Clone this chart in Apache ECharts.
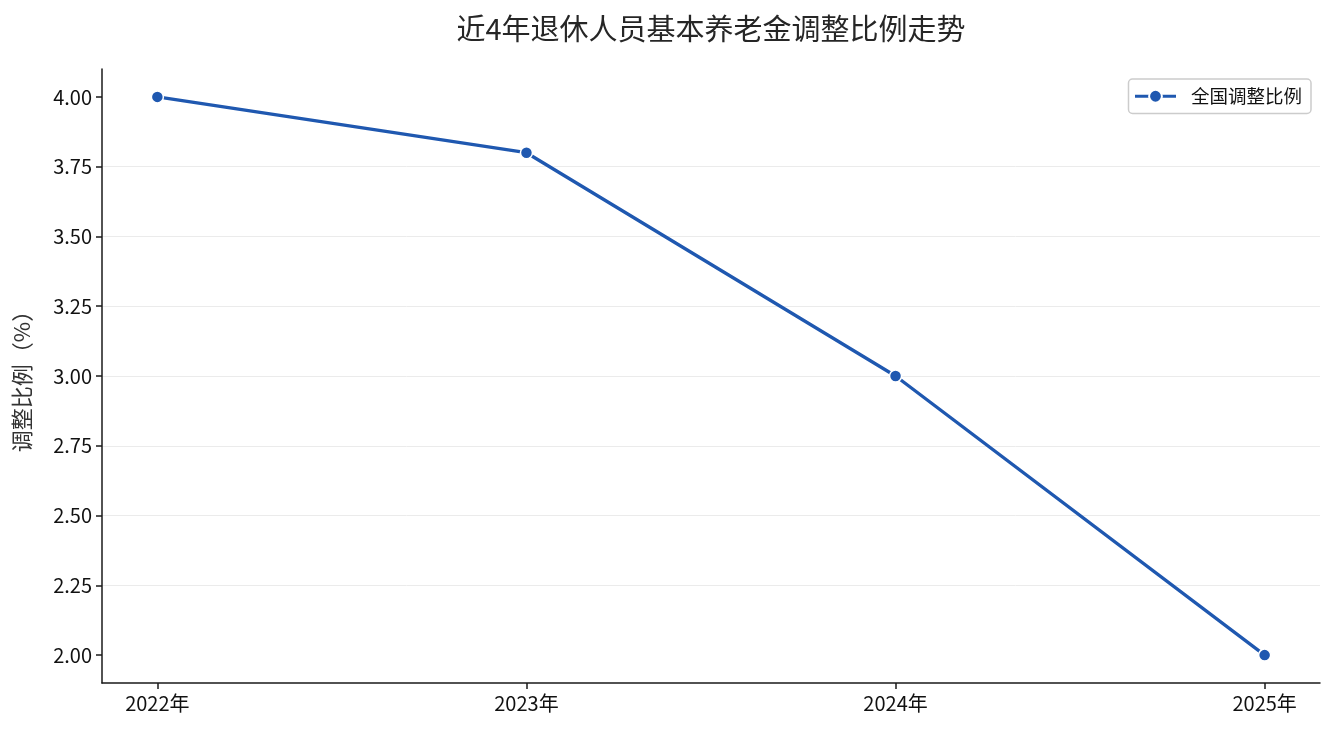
<!DOCTYPE html>
<html><head><meta charset="utf-8">
<script src="https://cdn.jsdelivr.net/npm/echarts@6/dist/echarts.min.js"></script>
<style>html,body{margin:0;padding:0;background:#fff}#c{width:1335px;height:735px}</style>
</head><body><div id="c"></div>
<script>
const categories = ['2022年', '2023年', '2024年', '2025年'];
const seriesName = '全国调整比例';
const values = [4.0, 3.8, 3.0, 2.0];
const yTicks = [2.00, 2.25, 2.50, 2.75, 3.00, 3.25, 3.50, 3.75, 4.00];
const titleText = '近4年退休人员基本养老金调整比例走势';
const yName = '调整比例（%）';

const FONT = '"Noto Sans CJK SC", "Noto Sans", sans-serif';
const chart = echarts.init(document.getElementById('c'));
chart.setOption({
  animation: false,
  backgroundColor: '#fff',
  title: { text: titleText, left: 706, top: 9, textAlign: 'center',
    textStyle: { fontFamily: FONT, fontSize: 29, fontWeight: 'normal', color: '#262626' } },
  legend: { top: 79, right: 24, data: [seriesName],
    itemWidth: 41, itemHeight: 16, itemGap: 12,
    lineStyle: { width: 3 },
    borderColor: '#cccccc', borderWidth: 1.5, borderRadius: 4, padding: [8, 9, 8, 5],
    textStyle: { fontFamily: FONT, fontSize: 18.5, color: '#111', padding: [0, 0, 0, 10] } },
  grid: { left: 102, right: 15, top: 69, bottom: 52, containLabel: false },
  xAxis: {
    type: 'value', min: -0.15, max: 3.15,
    axisLine: { show: true, onZero: false, lineStyle: { color: '#1a1a1a', width: 1.5 } },
    axisTick: { show: true, customValues: categories.map((c, i) => i), length: 6, lineStyle: { color: '#1a1a1a', width: 1.5 } },
    axisLabel: { customValues: categories.map((c, i) => i), formatter: v => categories[Math.round(v)],
      fontFamily: FONT, fontSize: 20, color: '#111', margin: 10 },
    splitLine: { show: false }
  },
  yAxis: {
    type: 'value', min: 1.9, max: 4.1, interval: 0.25,
    name: yName, nameLocation: 'middle', nameGap: 69, nameRotate: 90,
    nameTextStyle: { fontFamily: FONT, fontSize: 22, color: '#333' },
    axisLine: { show: true, onZero: false, lineStyle: { color: '#1a1a1a', width: 1.5 } },
    axisTick: { show: true, customValues: yTicks, length: 6, lineStyle: { color: '#1a1a1a', width: 1.5 } },
    axisLabel: { customValues: yTicks, formatter: v => v.toFixed(2), fontFamily: FONT, fontSize: 20, color: '#111', margin: 10 },
    splitLine: { show: true, showMinLine: false, showMaxLine: false, lineStyle: { color: '#ebebeb', width: 1 } }
  },
  series: [{
    name: seriesName, type: 'line',
    data: values.map((v, i) => [i, v]),
    symbol: 'circle', symbolSize: 12,
    lineStyle: { color: '#1f58b0', width: 3.3 },
    itemStyle: { color: '#1f58b0', borderColor: '#fff', borderWidth: 1.5 }
  }]
});
</script></body></html>
